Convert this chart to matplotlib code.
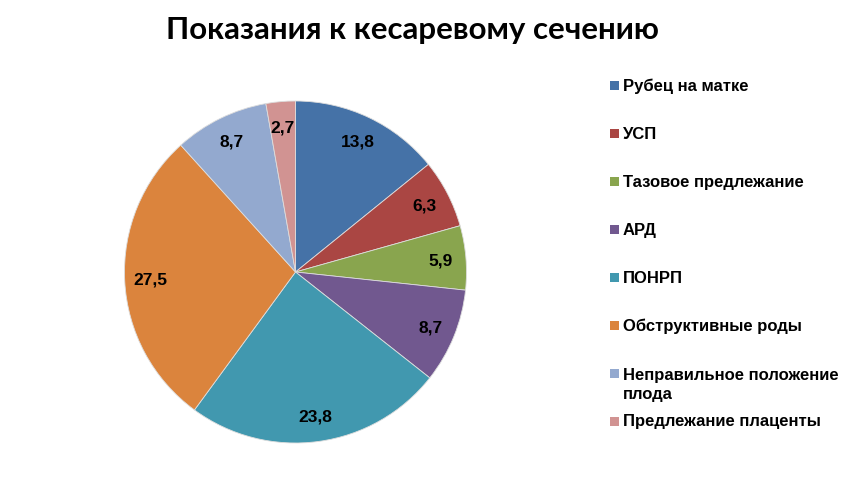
import matplotlib
matplotlib.use("Agg")
import matplotlib.pyplot as plt
from matplotlib.patches import Rectangle
import numpy as np
from matplotlib import font_manager

names = {f.name for f in font_manager.fontManager.ttflist}
narrow = 'Liberation Sans Narrow' if 'Liberation Sans Narrow' in names else 'Liberation Sans'

categories = ["Рубец на матке", "УСП", "Тазовое предлежание", "АРД", "ПОНРП",
              "Обструктивные роды", "Неправильное положение\nплода", "Предлежание плаценты"]
values = [13.8, 6.3, 5.9, 8.7, 23.8, 27.5, 8.7, 2.7]
value_labels = ["13,8", "6,3", "5,9", "8,7", "23,8", "27,5", "8,7", "2,7"]
colors = ["#4572A7", "#AA4643", "#89A54E", "#71588F", "#4198AF", "#DB843D", "#93A9CF", "#D19392"]

W, H = 849, 485
fig = plt.figure(figsize=(W/100, H/100), dpi=100)
cx, cy, R = 295.5, 273, 171
ax = fig.add_axes([(cx-R)/W, (H-cy-R)/H, 2*R/W, 2*R/H])
wedges, _ = ax.pie(values, colors=colors, startangle=90, counterclock=False, radius=1,
                   wedgeprops=dict(edgecolor='#dddddd', linewidth=0.6))
ax.set_xlim(-1, 1); ax.set_ylim(-1, 1)
ax.set_aspect('equal'); ax.axis('off')

for w, lab in zip(wedges, value_labels):
    ang = np.deg2rad((w.theta1 + w.theta2) / 2)
    d = 0.85
    ax.text(d*np.cos(ang), d*np.sin(ang), lab, ha='center', va='center',
            fontsize=12.5, fontweight='bold', family=narrow, color='black')

fig.text(412/W, 1-30/H, "Показания к кесаревому сечению", ha='center', va='center',
         fontsize=22.5, fontweight='bold', family='Lato')

y0, step = 86.7, 47.9
for i, (cat, col) in enumerate(zip(categories, colors)):
    y = y0 + i*step
    fig.patches.append(Rectangle((610/W, 1-(y+4.5)/H), 9/W, 9/H, transform=fig.transFigure,
                                 facecolor=col, edgecolor='none'))
    ty = y + 11 if '\n' in cat else y
    fig.text(623/W, 1-ty/H, cat, ha='left', va='center',
             fontsize=12, fontweight='bold', family=narrow, linespacing=1.35)

fig.savefig("out.png", dpi=100, facecolor='white')
